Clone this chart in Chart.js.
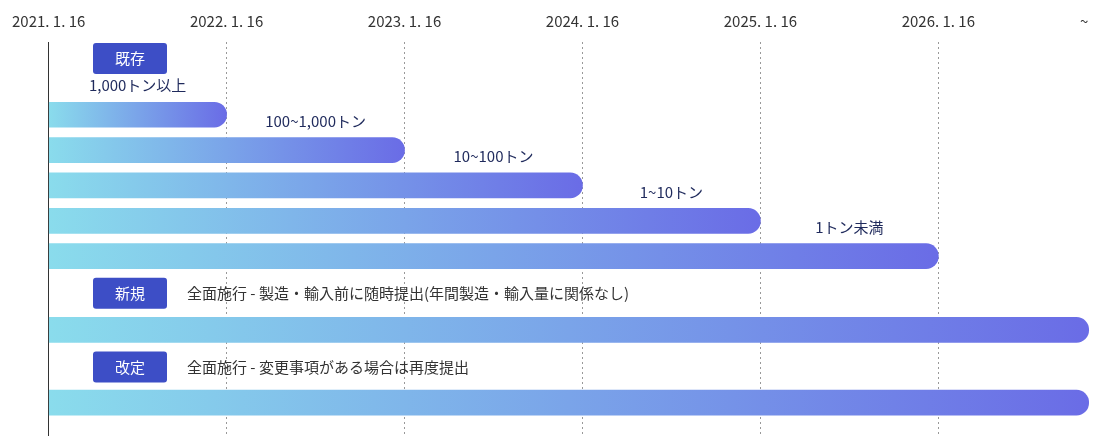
<!DOCTYPE html>
<html>
<head>
<meta charset="utf-8">
<script src="https://cdn.jsdelivr.net/npm/chart.js@4"></script>
<style>
  html, body { margin: 0; padding: 0; background: #fff; }
  #wrap { width: 1100px; height: 437px; }
</style>
</head>
<body>
<div id="wrap"><canvas id="chart"></canvas></div>
<script>
const tickLabels = ["2021. 1. 16", "2022. 1. 16", "2023. 1. 16", "2024. 1. 16", "2025. 1. 16", "2026. 1. 16", "~"];
const tickValues = [0, 1, 2, 3, 4, 5, 5.82];
const rowLabels = ["1,000トン以上", "100~1,000トン", "10~100トン", "1~10トン", "1トン未満", "", ""];
const barEnds = [1, 2, 3, 4, 5, 5.845, 5.845];
const rowPos = [74, 110, 146, 182, 218, 293, 367];
const badges = ["既存", "新規", "改定"];
const badgePos = [1, 240, 315];
const badgeNotes = ["", "全面施行 - 製造・輸入前に随時提出(年間製造・輸入量に関係なし)", "全面施行 - 変更事項がある場合は再度提出"];

const FONT = "'Noto Sans CJK JP', 'Noto Sans', sans-serif";

const overlay = {
  id: "overlay",
  afterDatasetsDraw(chart) {
    const { ctx, scales: { x, y } } = chart;
    ctx.save();
    ctx.font = "15px " + FONT;
    ctx.textAlign = "center";
    ctx.textBaseline = "middle";
    ctx.fillStyle = "#1f2a5c";
    rowLabels.forEach((t, i) => {
      if (!t) return;
      const cx = (x.getPixelForValue(barEnds[i] - 1) + x.getPixelForValue(barEnds[i])) / 2;
      ctx.fillText(t, cx, y.getPixelForValue(rowPos[i]) - 29);
    });
    badges.forEach((b, i) => {
      const top = y.getPixelForValue(badgePos[i]);
      ctx.fillStyle = "#3d4ec6";
      ctx.beginPath();
      ctx.roundRect(93, top, 74, 31, 3);
      ctx.fill();
      ctx.fillStyle = "#fff";
      ctx.textAlign = "center";
      ctx.fillText(b, 130, top + 15.5);
      if (badgeNotes[i]) {
        ctx.fillStyle = "#333";
        ctx.textAlign = "left";
        ctx.fillText(badgeNotes[i], 187, top + 15.5);
      }
    });
    ctx.restore();
  }
};

new Chart(document.getElementById("chart"), {
  type: "bar",
  data: {
    datasets: [{
      data: barEnds.map((e, i) => ({ x: [0, e], y: rowPos[i] })),
      barThickness: 25,
      borderRadius: { topRight: 13, bottomRight: 13, topLeft: 0, bottomLeft: 0 },
      borderSkipped: false,
      backgroundColor(c) {
        const { chart, raw } = c;
        const area = chart.chartArea;
        if (!area || !raw) return "#7aa6e8";
        const xs = chart.scales.x;
        const g = chart.ctx.createLinearGradient(xs.getPixelForValue(raw.x[0]), 0, xs.getPixelForValue(raw.x[1]), 0);
        g.addColorStop(0, "#8adcec");
        g.addColorStop(1, "#6a6ce6");
        return g;
      }
    }]
  },
  options: {
    indexAxis: "y",
    responsive: true,
    maintainAspectRatio: false,
    animation: false,
    layout: { padding: { left: 0, right: 0, top: 0, bottom: 2 } },
    plugins: { legend: { display: false }, tooltip: { enabled: false } },
    scales: {
      x: {
        type: "linear",
        position: "top",
        min: 0,
        max: 5.87,
        afterBuildTicks(s) { s.ticks = tickValues.map(v => ({ value: v })); },
        ticks: {
          autoSkip: false,
          maxRotation: 0,
          padding: 12,
          color: "#333",
          font: { family: FONT, size: 15 },
          callback: (v, i) => tickLabels[i]
        },
        grid: {
          drawTicks: false,
          color: (c) => (c.index > 0 && c.index < 6) ? "#999" : "rgba(0,0,0,0)",
          tickBorderDash: [2, 3]
        },
        border: { display: false, dash: [2, 3] }
      },
      y: {
        type: "linear",
        reverse: true,
        offset: false,
        min: 0,
        max: 400,
        ticks: { display: false },
        grid: { display: false, drawTicks: false, offset: false },
        border: { display: true, color: "#333", width: 1 }
      }
    }
  },
  plugins: [overlay]
});
</script>
</body>
</html>
